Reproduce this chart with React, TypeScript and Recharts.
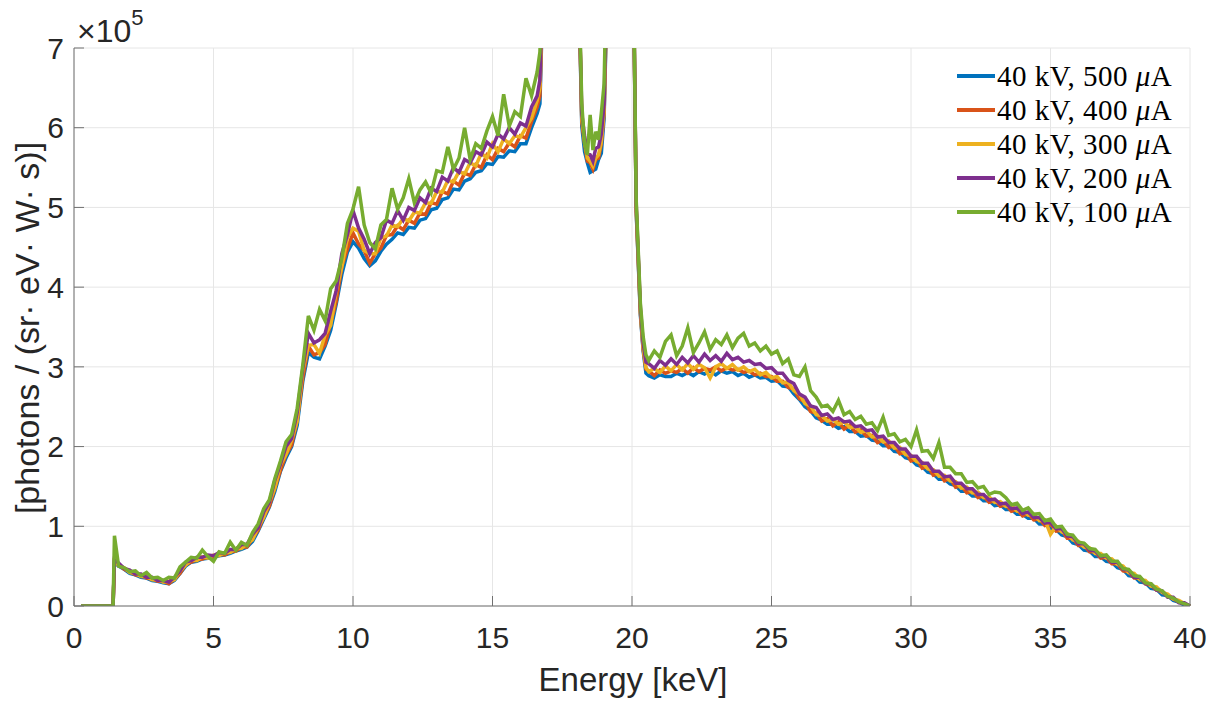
import React from 'react';
import { LineChart, Line, XAxis, YAxis, CartesianGrid, Legend } from 'recharts';

// energy bins [keV]
const energy = [
  0.25, 1.4, 1.45,
  1.6, 1.8, 2.0, 2.2, 2.4, 2.6, 2.8, 3.0, 3.2, 3.4,
  3.6, 3.8, 4.0, 4.2, 4.4, 4.6, 4.8, 5.0, 5.2, 5.4,
  5.6, 5.8, 6.0, 6.2, 6.4, 6.6, 6.8, 7.0, 7.2, 7.4,
  7.6, 7.8, 8.0, 8.2, 8.4, 8.6, 8.8, 9.0, 9.2, 9.4,
  9.6, 9.8, 10.0, 10.2, 10.4, 10.6, 10.8, 11.0, 11.2, 11.4,
  11.6, 11.8, 12.0, 12.2, 12.4, 12.6, 12.8, 13.0, 13.2, 13.4,
  13.6, 13.8, 14.0, 14.2, 14.4, 14.6, 14.8, 15.0, 15.2, 15.4,
  15.6, 15.8, 16.0, 16.2, 16.4, 16.6,
  16.7, 16.8, 17.45, 18.05, 18.2, 18.3, 18.4, 18.5, 18.6, 18.7,
  18.8, 18.9, 19.0, 19.1, 19.6, 20.05, 20.15, 20.3, 20.4, 20.5,
  20.6, 20.8, 21.0, 21.2, 21.4, 21.6, 21.8, 22.0, 22.2, 22.4,
  22.6, 22.8, 23.0, 23.2, 23.4, 23.6, 23.8, 24.0, 24.2, 24.4,
  24.6, 24.8, 25.0, 25.2, 25.4, 25.6, 25.8, 26.0, 26.2, 26.4,
  26.6, 26.8, 27.0, 27.2, 27.4, 27.6, 27.8, 28.0, 28.2, 28.4,
  28.6, 28.8, 29.0, 29.2, 29.4, 29.6, 29.8, 30.0, 30.2, 30.4,
  30.6, 30.8, 31.0, 31.2, 31.4, 31.6, 31.8, 32.0, 32.2, 32.4,
  32.6, 32.8, 33.0, 33.2, 33.4, 33.6, 33.8, 34.0, 34.2, 34.4,
  34.6, 34.8, 35.0, 35.2, 35.4, 35.6, 35.8, 36.0, 36.2, 36.4,
  36.6, 36.8, 37.0, 37.2, 37.4, 37.6, 37.8, 38.0, 38.2, 38.4,
  38.6, 38.8, 39.0, 39.2, 39.4, 39.6, 39.8, 40.0,
];

// spectra in units of 1e5 photons / (sr eV W s)
const spec500 = [
  0, 0, 0.55,
  0.50, 0.46, 0.41, 0.39, 0.36, 0.35, 0.32, 0.31, 0.29, 0.28,
  0.32, 0.41, 0.50, 0.55, 0.56, 0.59, 0.60, 0.61, 0.63, 0.64,
  0.66, 0.69, 0.71, 0.74, 0.81, 0.94, 1.09, 1.24, 1.44, 1.69,
  1.86, 2.00, 2.27, 2.82, 3.18, 3.12, 3.10, 3.26, 3.46, 3.79,
  4.16, 4.44, 4.57, 4.49, 4.36, 4.27, 4.33, 4.45, 4.54, 4.60,
  4.68, 4.66, 4.75, 4.74, 4.84, 4.86, 4.97, 4.99, 5.10, 5.12,
  5.23, 5.22, 5.33, 5.36, 5.44, 5.46, 5.55, 5.54, 5.64, 5.63,
  5.71, 5.70, 5.80, 5.80, 6.00, 6.18,
  6.30, 7.6, 40, 8.5, 6.02, 5.70, 5.56, 5.44, 5.46, 5.48,
  5.60, 5.68, 6.12, 7.6, 18, 8.0, 4.95, 3.65, 3.20, 2.92,
  2.89, 2.86, 2.90, 2.88, 2.88, 2.92, 2.89, 2.93, 2.89, 2.94,
  2.91, 2.95, 2.90, 2.95, 2.92, 2.94, 2.89, 2.92, 2.87, 2.90,
  2.86, 2.87, 2.82, 2.83, 2.76, 2.75, 2.66, 2.59, 2.50, 2.45,
  2.36, 2.33, 2.28, 2.28, 2.23, 2.25, 2.19, 2.19, 2.13, 2.14,
  2.08, 2.07, 2.01, 2.01, 1.94, 1.93, 1.86, 1.84, 1.77, 1.75,
  1.68, 1.66, 1.59, 1.59, 1.53, 1.51, 1.44, 1.44, 1.38, 1.38,
  1.32, 1.32, 1.26, 1.27, 1.21, 1.21, 1.15, 1.15, 1.10, 1.10,
  1.03, 1.03, 0.97, 0.96, 0.89, 0.87, 0.79, 0.77, 0.70, 0.69,
  0.62, 0.62, 0.56, 0.55, 0.48, 0.46, 0.38, 0.37, 0.30, 0.29,
  0.22, 0.21, 0.14, 0.13, 0.07, 0.05, 0.01, 0.00,
];

const spec400 = [
  0, 0, 0.56,
  0.52, 0.46, 0.43, 0.39, 0.38, 0.35, 0.34, 0.31, 0.31, 0.28,
  0.34, 0.41, 0.52, 0.55, 0.58, 0.59, 0.62, 0.61, 0.65, 0.64,
  0.68, 0.69, 0.74, 0.74, 0.85, 0.95, 1.12, 1.25, 1.48, 1.70,
  1.90, 2.02, 2.33, 2.86, 3.26, 3.15, 3.18, 3.28, 3.55, 3.82,
  4.26, 4.48, 4.68, 4.54, 4.46, 4.30, 4.42, 4.49, 4.65, 4.66,
  4.77, 4.72, 4.84, 4.80, 4.93, 4.91, 5.06, 5.04, 5.20, 5.17,
  5.33, 5.28, 5.43, 5.40, 5.54, 5.50, 5.66, 5.60, 5.74, 5.70,
  5.81, 5.76, 5.90, 5.87, 6.08, 6.26,
  6.40, 7.7, 40, 8.5, 6.08, 5.80, 5.58, 5.56, 5.48, 5.60,
  5.62, 5.80, 6.18, 7.7, 18, 8.0, 4.98, 3.68, 3.22, 2.97,
  2.95, 2.89, 2.96, 2.92, 2.95, 2.93, 2.98, 2.92, 2.99, 2.94,
  2.98, 2.96, 3.00, 2.95, 2.99, 2.96, 2.97, 2.93, 2.95, 2.90,
  2.92, 2.88, 2.88, 2.82, 2.82, 2.74, 2.72, 2.60, 2.56, 2.44,
  2.42, 2.32, 2.35, 2.26, 2.31, 2.22, 2.27, 2.18, 2.21, 2.13,
  2.14, 2.05, 2.08, 1.99, 2.01, 1.91, 1.93, 1.82, 1.84, 1.73,
  1.75, 1.64, 1.66, 1.57, 1.60, 1.49, 1.51, 1.42, 1.44, 1.36,
  1.38, 1.30, 1.32, 1.25, 1.27, 1.19, 1.21, 1.13, 1.16, 1.08,
  1.09, 1.01, 1.03, 0.94, 0.95, 0.85, 0.85, 0.76, 0.76, 0.68,
  0.68, 0.60, 0.61, 0.53, 0.53, 0.44, 0.43, 0.35, 0.35, 0.28,
  0.26, 0.20, 0.18, 0.12, 0.09, 0.05, 0.03, 0.00,
];

const spec300 = [
  0, 0, 0.56,
  0.51, 0.48, 0.42, 0.41, 0.37, 0.37, 0.33, 0.33, 0.30, 0.31,
  0.33, 0.44, 0.51, 0.58, 0.57, 0.62, 0.60, 0.64, 0.63, 0.67,
  0.67, 0.72, 0.72, 0.78, 0.83, 0.99, 1.11, 1.30, 1.48, 1.77,
  1.90, 2.08, 2.32, 2.95, 3.27, 3.28, 3.17, 3.40, 3.52, 3.95,
  4.25, 4.62, 4.74, 4.70, 4.46, 4.42, 4.42, 4.62, 4.64, 4.78,
  4.76, 4.86, 4.83, 4.94, 4.93, 5.06, 5.05, 5.20, 5.19, 5.34,
  5.32, 5.45, 5.42, 5.56, 5.52, 5.68, 5.62, 5.80, 5.70, 5.86,
  5.80, 5.90, 5.88, 6.00, 6.12, 6.34,
  6.50, 7.8, 40, 8.5, 6.12, 5.84, 5.62, 5.58, 5.52, 5.62,
  5.66, 5.82, 6.22, 7.8, 18, 8.0, 5.00, 3.70, 3.24, 2.99,
  2.94, 2.98, 2.93, 3.01, 2.95, 3.03, 2.96, 3.04, 2.97, 3.03,
  2.99, 2.86, 3.00, 3.04, 2.98, 3.03, 2.96, 3.00, 2.94, 2.97,
  2.90, 2.93, 2.86, 2.88, 2.80, 2.81, 2.70, 2.66, 2.54, 2.51,
  2.40, 2.39, 2.32, 2.34, 2.28, 2.31, 2.24, 2.25, 2.18, 2.20,
  2.12, 2.13, 2.06, 2.07, 1.98, 1.99, 1.90, 1.89, 1.81, 1.80,
  1.72, 1.71, 1.63, 1.64, 1.57, 1.56, 1.48, 1.49, 1.42, 1.43,
  1.36, 1.37, 1.30, 1.31, 1.25, 1.26, 1.19, 1.20, 1.14, 1.15,
  1.07, 1.08, 0.90, 1.00, 0.93, 0.91, 0.83, 0.81, 0.74, 0.73,
  0.66, 0.66, 0.60, 0.59, 0.52, 0.50, 0.42, 0.41, 0.33, 0.32,
  0.25, 0.24, 0.17, 0.15, 0.09, 0.07, 0.03, 0.00,
];

const spec200 = [
  0, 0, 0.58,
  0.54, 0.47, 0.45, 0.40, 0.40, 0.36, 0.36, 0.32, 0.32, 0.30,
  0.36, 0.44, 0.55, 0.57, 0.61, 0.61, 0.64, 0.63, 0.67, 0.66,
  0.71, 0.71, 0.77, 0.77, 0.90, 0.98, 1.18, 1.30, 1.58, 1.78,
  2.00, 2.10, 2.43, 2.98, 3.42, 3.30, 3.34, 3.42, 3.70, 3.96,
  4.42, 4.66, 4.96, 4.74, 4.60, 4.42, 4.56, 4.62, 4.84, 4.80,
  4.96, 4.84, 5.00, 4.96, 5.12, 5.06, 5.24, 5.20, 5.38, 5.33,
  5.50, 5.44, 5.60, 5.56, 5.70, 5.66, 5.82, 5.76, 5.92, 5.86,
  6.00, 5.92, 6.06, 6.02, 6.26, 6.40,
  6.60, 7.9, 40, 8.5, 6.18, 5.90, 5.68, 5.66, 5.58, 5.74,
  5.76, 5.92, 6.30, 7.9, 18, 8.0, 5.05, 3.75, 3.30, 3.06,
  3.04, 2.98, 3.08, 3.02, 3.10, 3.03, 3.12, 3.05, 3.14, 3.06,
  3.16, 3.08, 3.14, 3.07, 3.17, 3.09, 3.12, 3.06, 3.08, 3.03,
  3.04, 2.98, 2.99, 2.92, 2.92, 2.83, 2.79, 2.66, 2.62, 2.51,
  2.49, 2.39, 2.41, 2.34, 2.36, 2.31, 2.32, 2.25, 2.26, 2.20,
  2.21, 2.12, 2.13, 2.05, 2.05, 1.97, 1.97, 1.88, 1.88, 1.79,
  1.79, 1.69, 1.69, 1.62, 1.63, 1.54, 1.54, 1.47, 1.47, 1.40,
  1.40, 1.33, 1.34, 1.28, 1.29, 1.22, 1.23, 1.16, 1.18, 1.11,
  1.11, 1.04, 1.05, 0.97, 0.97, 0.88, 0.87, 0.78, 0.78, 0.70,
  0.69, 0.62, 0.63, 0.55, 0.55, 0.46, 0.45, 0.36, 0.36, 0.28,
  0.28, 0.20, 0.19, 0.11, 0.11, 0.04, 0.04, 0.00,
];

const spec100 = [
  0, 0, 0.88,
  0.50, 0.48, 0.43, 0.44, 0.38, 0.42, 0.35, 0.36, 0.32, 0.36,
  0.35, 0.49, 0.55, 0.61, 0.60, 0.70, 0.62, 0.56, 0.68, 0.66,
  0.80, 0.70, 0.80, 0.76, 0.92, 1.03, 1.22, 1.33, 1.60, 1.82,
  2.06, 2.15, 2.48, 3.02, 3.64, 3.46, 3.72, 3.58, 3.98, 4.08,
  4.36, 4.80, 4.98, 5.26, 4.78, 4.56, 4.48, 4.78, 4.85, 5.24,
  4.98, 5.12, 5.36, 5.06, 5.22, 5.32, 5.18, 5.46, 5.44, 5.76,
  5.48, 5.62, 6.00, 5.60, 5.80, 5.74, 5.96, 6.14, 5.90, 6.42,
  6.02, 6.20, 6.14, 6.62, 6.40, 6.70,
  6.95, 8.2, 40, 8.5, 6.30, 5.80, 5.66, 6.16, 5.72, 5.95,
  5.85, 6.18, 6.55, 8.2, 18, 8.0, 5.10, 3.80, 3.38, 3.15,
  3.08, 3.20, 3.12, 3.32, 3.40, 3.14, 3.26, 3.49, 3.18, 3.30,
  3.44, 3.22, 3.34, 3.28, 3.40, 3.24, 3.36, 3.42, 3.26, 3.30,
  3.20, 3.26, 3.16, 3.20, 3.04, 3.10, 2.90, 2.88, 3.00, 2.70,
  2.62, 2.50, 2.52, 2.44, 2.58, 2.40, 2.44, 2.34, 2.38, 2.28,
  2.30, 2.20, 2.37, 2.14, 2.16, 2.06, 2.09, 2.00, 2.21, 1.94,
  1.95, 1.85, 2.05, 1.74, 1.74, 1.66, 1.66, 1.55, 1.56, 1.48,
  1.50, 1.40, 1.43, 1.42, 1.36, 1.27, 1.29, 1.20, 1.23, 1.15,
  1.16, 1.07, 1.09, 0.99, 1.00, 0.90, 0.89, 0.80, 0.79, 0.72,
  0.71, 0.63, 0.64, 0.56, 0.56, 0.47, 0.46, 0.38, 0.37, 0.29,
  0.28, 0.21, 0.19, 0.12, 0.10, 0.05, 0.03, 0.00,
];

const currents = ['500', '400', '300', '200', '100'];
const colors = ['#0072BD', '#D95319', '#EDB120', '#7E2F8E', '#77AC30'];
const xTicks = [0, 5, 10, 15, 20, 25, 30, 35, 40];
const yTicks = [0, 1, 2, 3, 4, 5, 6, 7];

const spectra = [spec500, spec400, spec300, spec200, spec100];
const keys = currents.map((c) => `i${c}`);

const data = energy.map((e, i) => {
  const row: Record<string, number> = { energy: e };
  keys.forEach((k, s) => {
    row[k] = spectra[s][i];
  });
  return row;
});

const SANS = '"Liberation Sans", Arial, Helvetica, sans-serif';
const SERIF = '"Liberation Serif", "DejaVu Serif", serif';

const LegendContent = ({ payload }: any) => {
  const items = [...(payload || [])].sort((a: any, b: any) => keys.indexOf(a.dataKey) - keys.indexOf(b.dataKey));
  return (
    <div>
      {items.map((entry: any) => {
        const idx = keys.indexOf(entry.dataKey);
        return (
          <div key={entry.dataKey} style={{ display: 'flex', alignItems: 'center', height: 34 }}>
            <span style={{ display: 'inline-block', width: 38, height: 4, background: colors[idx], marginRight: 2 }} />
            <span style={{ fontFamily: SERIF, fontSize: 29, letterSpacing: 0.5, color: '#000', lineHeight: '34px', whiteSpace: 'nowrap' }}>
              40 kV, {currents[idx]} <i>μ</i>A
            </span>
          </div>
        );
      })}
    </div>
  );
};

export default function App() {
  return (
    <div style={{ position: 'absolute', left: 0, top: 0, width: 1219, height: 702, background: '#fff' }}>
      <LineChart width={1219} height={702} data={data} margin={{ top: 48, right: 29, left: 0, bottom: 0 }}>
        <CartesianGrid stroke="#e6e6e6" strokeWidth={1} horizontalValues={yTicks} verticalValues={xTicks} />
        <XAxis
          dataKey="energy"
          type="number"
          domain={[0, 40]}
          ticks={xTicks}
          height={96}
          stroke="#707070"
          tickSize={-10}
          tickMargin={31}
          tick={{ fill: '#262626', fontSize: 30, fontFamily: SANS }}
        />
        <YAxis
          domain={[0, 7]}
          ticks={yTicks}
          allowDataOverflow
          width={74}
          stroke="#707070"
          tickSize={-10}
          tickMargin={20}
          tick={{ fill: '#262626', fontSize: 30, fontFamily: SANS }}
        />
        {keys.map((k, s) => (
          <Line
            key={k}
            dataKey={k}
            name={`40 kV, ${currents[s]} μA`}
            type="linear"
            stroke={colors[s]}
            strokeWidth={3.5}
            dot={false}
            activeDot={false}
            isAnimationActive={false}
          />
        ))}
        <Legend
          layout="horizontal"
          verticalAlign="middle"
          align="center"
          content={<LegendContent />}
          wrapperStyle={{ top: 59, left: 957, width: 260 }}
        />
      </LineChart>
      <svg width={1219} height={702} style={{ position: 'absolute', left: 0, top: 0, pointerEvents: 'none' }}>
        <text x={77} y={42} fontSize={32} fontFamily={SANS} fill="#262626">
          ×10<tspan dy={-17} fontSize={22}>5</tspan>
        </text>
        <text x={633} y={691} textAnchor="middle" fontSize={33} fontFamily={SANS} fill="#262626">
          Energy [keV]
        </text>
        <text transform="translate(39, 328) rotate(-90)" textAnchor="middle" fontSize={34} fontFamily={SANS} fill="#262626">
          [photons / (sr· eV· W· s)]
        </text>
      </svg>
    </div>
  );
}
